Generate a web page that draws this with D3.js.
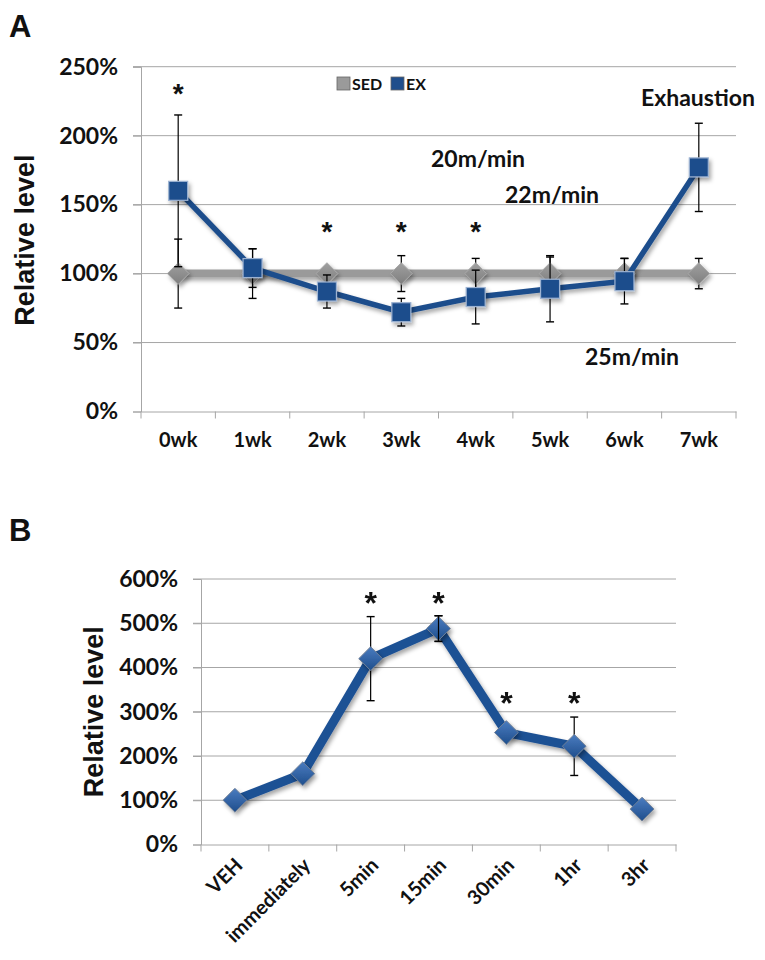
<!DOCTYPE html>
<html><head><meta charset="utf-8">
<script src="https://cdn.jsdelivr.net/npm/d3@7"></script>
<style>
body{margin:0;background:#fff;}
svg{display:block;}
text{font-family:Lato,"Open Sans",sans-serif;font-weight:bold;fill:#111;}
</style></head>
<body>
<svg id="c" width="765" height="960"></svg>
<script>
// ---- Panel A data ----
const weeks = ["0wk","1wk","2wk","3wk","4wk","5wk","6wk","7wk"];
const sedValues = [1.00,1.00,1.00,1.00,1.00,1.00,1.00,1.00];
const sedErrors = [0.25,0.18,0.03,0.13,0.11,0.12,0.11,0.11];
const exValues  = [1.60,1.04,0.87,0.72,0.83,0.89,0.945,1.77];
const exErrors  = [0.55,0.14,0.12,0.10,0.195,0.24,0.165,0.32];
const starsA    = ["0wk","2wk","3wk","4wk"];
const yTicksA   = [0,0.5,1,1.5,2,2.5];
const legendA   = ["SED","EX"];
const notesA    = [
  {text:"Exhaustion", week:"7wk", v:2.215},
  {text:"20m/min", week:"3wk", v:1.77},
  {text:"22m/min", week:"4wk", v:1.515},
  {text:"25m/min", week:"6wk", v:0.34}
];
// ---- Panel B data ----
const times   = ["VEH","immediately","5min","15min","30min","1hr","3hr"];
const bValues = [1.00,1.60,4.20,4.88,2.53,2.22,0.80];
const bErrors = [0,0,0.95,0.29,0,0.66,0];
const starsB  = ["5min","15min","30min","1hr"];
const yTicksB = [0,1,2,3,4,5,6];

const svg = d3.select("#c");
const pct = d3.format(".0%");

// defs: shadow + gradient
const defs = svg.append("defs");
const sh = defs.append("filter").attr("id","shadow").attr("filterUnits","userSpaceOnUse")
  .attr("x",-1500).attr("y",-1500).attr("width",4000).attr("height",4000);
sh.append("feDropShadow").attr("dx",2).attr("dy",3).attr("stdDeviation",2).attr("flood-color","#000").attr("flood-opacity",0.35);
const gr = defs.append("linearGradient").attr("id","dg").attr("x1","0").attr("y1","0").attr("x2","0").attr("y2","1");
gr.append("stop").attr("offset","0").attr("stop-color","#4a7cc0");
gr.append("stop").attr("offset","1").attr("stop-color","#1f4e8c");
const gg = defs.append("linearGradient").attr("id","gg").attr("x1","0").attr("y1","0").attr("x2","0").attr("y2","1");
gg.append("stop").attr("offset","0").attr("stop-color","#a0a0a0");
gg.append("stop").attr("offset","1").attr("stop-color","#7e7e7e");

const tickFont = "23px";

// ================= Panel A =================
const xA = d3.scaleBand().domain(weeks).range([141,736]);
const yA = d3.scaleLinear().domain([0,2.5]).range([411.5,66.7]);
const cxA = w => xA(w) + xA.bandwidth()/2;

svg.append("text").attr("x",9).attr("y",37).style("font-family","'Liberation Sans',Arial,sans-serif").style("font-size","31px").text("A");

// gridlines
svg.append("g").selectAll("line").data(yTicksA.filter(d=>d>0)).join("line")
  .attr("x1",133).attr("x2",736).attr("y1",d=>yA(d)).attr("y2",d=>yA(d))
  .attr("stroke","#a6a6a6").attr("stroke-width",1);
// y axis
const axYA = svg.append("g").attr("transform","translate(141,0)")
  .call(d3.axisLeft(yA).tickValues(yTicksA).tickFormat(pct).tickSize(8).tickPadding(15));
axYA.select(".domain").attr("stroke","#a6a6a6");
axYA.selectAll(".tick line").attr("stroke","#a6a6a6");
axYA.selectAll(".tick text").style("font-size",tickFont).attr("fill","#111").style("font-family","Lato,sans-serif").style("font-weight","bold");
// x axis
const axXA = svg.append("g").attr("transform",`translate(0,${yA(0)})`)
  .call(d3.axisBottom(xA).tickSize(0).tickPadding(21));
axXA.select(".domain").attr("stroke","#a6a6a6");
axXA.selectAll(".tick text").style("font-size","20px").attr("fill","#111").style("font-family","Lato,sans-serif").style("font-weight","bold");
svg.append("g").selectAll("line").data(d3.range(weeks.length+1)).join("line")
  .attr("x1",i=>xA.range()[0]+i*xA.step()).attr("x2",i=>xA.range()[0]+i*xA.step())
  .attr("y1",yA(0)).attr("y2",yA(0)+7).attr("stroke","#a6a6a6");

svg.append("text").attr("transform",`translate(34,${(66.7+411.5)/2+1}) rotate(-90)`).attr("text-anchor","middle")
  .style("font-family","'Liberation Sans',Arial,sans-serif").style("font-size","27px").text("Relative level");

// error bars helper
function errBars(g, xs, vals, errs, yS, capW){
  const d = vals.map((v,i)=>({x:xs[i],v,e:errs[i]})).filter(d=>d.e>0);
  g.selectAll("line.v").data(d).join("line").attr("class","v")
    .attr("x1",d=>d.x).attr("x2",d=>d.x).attr("y1",d=>yS(d.v-d.e)).attr("y2",d=>yS(d.v+d.e))
    .attr("stroke","#000").attr("stroke-width",1.2);
  ["t","b"].forEach(k=>{
    g.selectAll("line.c"+k).data(d).join("line").attr("class","c"+k)
      .attr("x1",d=>d.x-capW/2).attr("x2",d=>d.x+capW/2)
      .attr("y1",d=>yS(k==="t"?d.v+d.e:d.v-d.e)).attr("y2",d=>yS(k==="t"?d.v+d.e:d.v-d.e))
      .attr("stroke","#000").attr("stroke-width",1.4);
  });
}
const xsA = weeks.map(cxA);
// SED error bars
errBars(svg.append("g"), xsA, sedValues, sedErrors, yA, 8);
// SED line
const lineA = d3.line().x((d,i)=>xsA[i]).y(d=>yA(d));
svg.append("path").datum(sedValues).attr("d",lineA).attr("fill","none").attr("stroke","#9a9a9a").attr("stroke-width",8).attr("filter","url(#shadow)");
svg.append("g").attr("filter","url(#shadow)").selectAll("path").data(sedValues).join("path")
  .attr("d",d3.symbol(d3.symbolDiamond2,300)).attr("transform",(d,i)=>`translate(${xsA[i]},${yA(d)})`)
  .attr("fill","url(#gg)").attr("stroke","#a8a8a8").attr("stroke-width",1);
// EX error bars
errBars(svg.append("g"), xsA, exValues, exErrors, yA, 8);
// EX line
svg.append("path").datum(exValues).attr("d",lineA).attr("fill","none").attr("stroke","#1f4e8c").attr("stroke-width",5.5).attr("filter","url(#shadow)");
svg.append("g").attr("filter","url(#shadow)").selectAll("rect").data(exValues).join("rect")
  .attr("x",(d,i)=>xsA[i]-9.5).attr("y",d=>yA(d)-9.5).attr("width",19).attr("height",19)
  .attr("fill","#1f4e8c").attr("stroke","#9db3d2").attr("stroke-width",1.2);

// stars A
svg.append("g").selectAll("text").data(starsA).join("text")
  .attr("x",d=>cxA(d)).attr("y",(d,i)=>i===0?103:241).attr("text-anchor","middle")
  .style("font-family","'Liberation Sans',Arial,sans-serif").style("font-size","28px").text("*");

// legend A
const legColors = ["#9a9a9a","#1f4e8c"];
const legX = [337,391];
legendA.forEach((t,i)=>{
  svg.append("rect").attr("x",legX[i]).attr("y",77).attr("width",13).attr("height",13).attr("fill",legColors[i]).attr("stroke","#666").attr("stroke-width",0.8);
  svg.append("text").attr("x",legX[i]+15).attr("y",90).style("font-size","16px").text(t);
});

// annotations A
const noteX = {"Exhaustion":641,"20m/min":431,"22m/min":505,"25m/min":585};
svg.append("g").selectAll("text").data(notesA).join("text")
  .attr("x",d=>noteX[d.text]).attr("y",d=>yA(d.v)).style("font-size","23px").text(d=>d.text);

// ================= Panel B =================
const xB = d3.scaleBand().domain(times).range([201,676]);
const yB = d3.scaleLinear().domain([0,6]).range([844.5,579]);
const cxB = t => xB(t) + xB.bandwidth()/2;
const xsB = times.map(cxB);

svg.append("text").attr("x",9).attr("y",541).style("font-family","'Liberation Sans',Arial,sans-serif").style("font-size","31px").text("B");

svg.append("g").selectAll("line").data(yTicksB.filter(d=>d>0)).join("line")
  .attr("x1",193).attr("x2",676).attr("y1",d=>yB(d)).attr("y2",d=>yB(d))
  .attr("stroke","#a6a6a6").attr("stroke-width",1);
const axYB = svg.append("g").attr("transform","translate(201,0)")
  .call(d3.axisLeft(yB).tickValues(yTicksB).tickFormat(pct).tickSize(8).tickPadding(15));
axYB.select(".domain").attr("stroke","#a6a6a6");
axYB.selectAll(".tick line").attr("stroke","#a6a6a6");
axYB.selectAll(".tick text").style("font-size",tickFont).attr("fill","#111").style("font-family","Lato,sans-serif").style("font-weight","bold");
const axXB = svg.append("g").attr("transform",`translate(0,${yB(0)})`)
  .call(d3.axisBottom(xB).tickSize(0).tickPadding(0));
axXB.select(".domain").attr("stroke","#a6a6a6");
axXB.selectAll(".tick text").style("font-size","20px").attr("fill","#111").style("font-family","Lato,sans-serif").style("font-weight","bold")
  .attr("text-anchor","end").attr("dy",0).attr("y",0)
  .attr("transform","translate(9,22) rotate(-45)");
svg.append("g").selectAll("line").data(d3.range(times.length+1)).join("line")
  .attr("x1",i=>xB.range()[0]+i*xB.step()).attr("x2",i=>xB.range()[0]+i*xB.step())
  .attr("y1",yB(0)).attr("y2",yB(0)+7).attr("stroke","#a6a6a6");

svg.append("text").attr("transform",`translate(103,${(579+844.5)/2}) rotate(-90)`).attr("text-anchor","middle")
  .style("font-family","'Liberation Sans',Arial,sans-serif").style("font-size","27px").text("Relative level");

errBars(svg.append("g"), xsB, bValues, bErrors, yB, 8);
const lineB = d3.line().x((d,i)=>xsB[i]).y(d=>yB(d));
svg.append("path").datum(bValues).attr("d",lineB).attr("fill","none").attr("stroke","#1f5194").attr("stroke-width",9)
  .attr("stroke-linejoin","round").attr("filter","url(#shadow)");
svg.append("g").attr("filter","url(#shadow)").selectAll("path").data(bValues).join("path")
  .attr("d",d3.symbol(d3.symbolDiamond2,360)).attr("transform",(d,i)=>`translate(${xsB[i]},${yB(d)})`)
  .attr("fill","url(#dg)").attr("stroke","#6f7f96").attr("stroke-width",1);
// re-draw error bar caps on top where they pass through markers
errBars(svg.append("g"), xsB, bValues, bErrors.map((e,i)=>i===3?e:0), yB, 8);

svg.append("g").selectAll("text").data(starsB).join("text")
  .attr("x",d=>cxB(d)).attr("y",(d,i)=>i<2?614:714).attr("text-anchor","middle")
  .style("font-family","'Liberation Sans',Arial,sans-serif").style("font-size","32px").text("*");
</script>
</body></html>
